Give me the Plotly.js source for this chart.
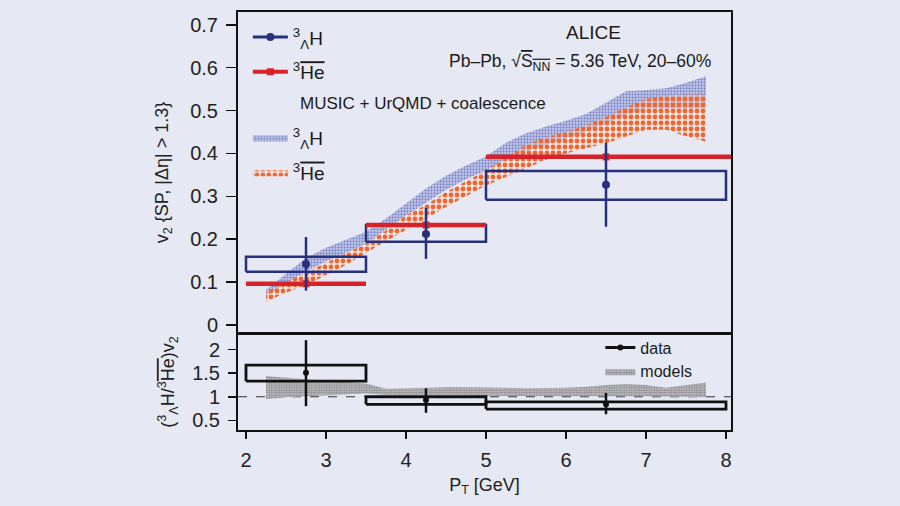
<!DOCTYPE html>
<html>
<head>
<meta charset="utf-8">
<script src="https://cdn.plot.ly/plotly-3.0.1.min.js"></script>
<style>html,body{margin:0;padding:0;background:#e6e9f4;}</style>
</head>
<body>
<div id="chart" style="width:900px;height:506px;"></div>
<script>
// ---------- data ----------
const xTicks = [2, 3, 4, 5, 6, 7, 8];
const yTicksTop = [0, 0.1, 0.2, 0.3, 0.4, 0.5, 0.6, 0.7];
const yTicksBottom = [0.5, 1, 1.5, 2];

const binLo = [2, 3.5, 5];
const binHi = [3.5, 5, 8];
const ptCenter = [2.75, 4.25, 6.5];

// hypertriton (3ΛH) v2
const hV2 = [0.142, 0.212, 0.327];
const hStatUp = [0.063, 0.061, 0.098];
const hStatDn = [0.062, 0.058, 0.098];
const hSysLo = [0.124, 0.194, 0.292];
const hSysHi = [0.159, 0.233, 0.359];

// anti-3He v2
const heV2 = [0.096, 0.233, 0.392];
const heStat = [0.006, 0.006, 0.006];
const heBinHi = [3.5, 5, 8.1];

// models: MUSIC + UrQMD + coalescence
const modelPt = [2.25, 2.5, 2.75, 3.0, 3.25, 3.5, 3.75, 4.0, 4.25, 4.5, 4.75, 5.0, 5.25, 5.5, 5.75, 6.0, 6.25, 6.5, 6.75, 7.0, 7.25, 7.5, 7.75];
const hModelHi = [0.082, 0.118, 0.156, 0.180, 0.198, 0.217, 0.248, 0.283, 0.318, 0.348, 0.372, 0.393, 0.425, 0.447, 0.463, 0.476, 0.492, 0.518, 0.545, 0.548, 0.552, 0.565, 0.580];
const hModelLo = [0.066, 0.095, 0.125, 0.148, 0.168, 0.190, 0.222, 0.255, 0.285, 0.315, 0.340, 0.360, 0.385, 0.405, 0.420, 0.435, 0.450, 0.470, 0.490, 0.505, 0.505, 0.505, 0.505];
const heModelHi = [0.077, 0.100, 0.122, 0.145, 0.167, 0.190, 0.220, 0.255, 0.280, 0.310, 0.335, 0.360, 0.390, 0.420, 0.438, 0.450, 0.465, 0.485, 0.508, 0.527, 0.535, 0.537, 0.537];
const heModelLo = [0.054, 0.075, 0.093, 0.115, 0.140, 0.168, 0.195, 0.222, 0.248, 0.275, 0.300, 0.325, 0.345, 0.365, 0.385, 0.400, 0.412, 0.424, 0.440, 0.455, 0.455, 0.440, 0.427];

// ratio 3ΛH / anti-3He
const ratio = [1.51, 0.93, 0.84];
const ratioStatUp = [0.69, 0.25, 0.24];
const ratioStatDn = [0.71, 0.27, 0.21];
const ratioSysLo = [1.33, 0.84, 0.74];
const ratioSysHi = [1.67, 1.00, 0.89];
const ratioModelHi = [1.44, 1.40, 1.37, 1.35, 1.32, 1.28, 1.17, 1.18, 1.20, 1.20, 1.20, 1.20, 1.19, 1.18, 1.18, 1.19, 1.21, 1.25, 1.27, 1.25, 1.19, 1.24, 1.30];
const ratioModelLo = [0.95, 0.99, 1.01, 1.03, 1.05, 1.07, 1.04, 1.04, 1.04, 1.04, 1.03, 1.02, 1.02, 1.02, 1.01, 1.01, 1.01, 1.01, 1.01, 1.01, 1.00, 1.00, 0.99];
const unityLine = 1;

// ---------- styles ----------
const BG = '#e6e9f4';
const NAVY = '#27307d';
const RED = '#d6232a';
const FONT = 'Liberation Sans, Arial, sans-serif';
const HL = '<sup>3</sup><sub>Λ</sub>H';
const HEBAR = '<sup>3</sup><span style="text-decoration:overline">He</span>';

// ---------- helpers ----------
function gapped(a) { const o = []; a.forEach((v, i) => { if (i) o.push(null); o.push(v); }); return o; }
function boxes(lo, hi, ylo, yhi) {
  const x = [], y = [];
  lo.forEach((l, i) => {
    x.push(l, hi[i], hi[i], l, l, null);
    y.push(ylo[i], ylo[i], yhi[i], yhi[i], ylo[i], null);
  });
  return {x, y};
}
function segments(lo, hi, v) {
  const x = [], y = [];
  lo.forEach((l, i) => { x.push(l, hi[i], null); y.push(v[i], v[i], null); });
  return {x, y};
}
function band(xs, hi, lo) {
  return {x: xs.concat(xs.slice().reverse()), y: hi.concat(lo.slice().reverse())};
}

const hBox = boxes(binLo, binHi, hSysLo, hSysHi);
const heSeg = segments(binLo, heBinHi, heV2);
const hBand = band(modelPt, hModelHi, hModelLo);
const heBand = band(modelPt, heModelHi, heModelLo);
const rBand = band(modelPt, ratioModelHi, ratioModelLo);
const rBox = boxes(binLo, binHi, ratioSysLo, ratioSysHi);

const traces = [
  // model bands (top)
  {x: hBand.x, y: hBand.y, xaxis: 'x2', yaxis: 'y', type: 'scatter', mode: 'lines', fill: 'toself',
   line: {width: 0, color: 'rgba(0,0,0,0)'}, fillcolor: '#c3c8ea',
   fillpattern: {shape: '.', fgcolor: '#7b85c8', bgcolor: '#c9cdeb', size: 3, solidity: 0.45},
   name: HL, legend: 'legend2', legendgroup: 'm1', legendrank: 1, hoverinfo: 'skip'},
  {x: heBand.x, y: heBand.y, xaxis: 'x2', yaxis: 'y', type: 'scatter', mode: 'lines', fill: 'toself',
   line: {width: 0, color: 'rgba(0,0,0,0)'}, fillcolor: 'rgba(250,210,190,0.4)',
   fillpattern: {shape: '.', fgcolor: '#ee6630', bgcolor: 'rgba(250,215,195,0.4)', size: 6, solidity: 0.5},
   name: HEBAR, legend: 'legend2', legendgroup: 'm2', legendrank: 2, hoverinfo: 'skip'},
  // hypertriton systematic boxes
  {x: hBox.x, y: hBox.y, xaxis: 'x2', yaxis: 'y', type: 'scatter', mode: 'lines',
   line: {color: NAVY, width: 2.5}, showlegend: false, hoverinfo: 'skip'},
  // anti-3He systematic (thin boxes)
  {x: heSeg.x, y: heSeg.y, xaxis: 'x2', yaxis: 'y', type: 'scatter', mode: 'lines',
   line: {color: RED, width: 4.5}, showlegend: false, hoverinfo: 'skip'},
  // anti-3He points
  {x: gapped(ptCenter), y: gapped(heV2), xaxis: 'x2', yaxis: 'y', type: 'scatter', mode: 'lines+markers',
   connectgaps: false, line: {color: RED, width: 4}, marker: {color: RED, size: 7, symbol: 'square'},
   error_y: {type: 'data', array: gapped(heStat), color: RED, thickness: 2, width: 0},
   name: HEBAR, legend: 'legend', legendgroup: 'd2', legendrank: 2},
  // hypertriton points
  {x: gapped(ptCenter), y: gapped(hV2), xaxis: 'x2', yaxis: 'y', type: 'scatter', mode: 'lines+markers',
   connectgaps: false, line: {color: NAVY, width: 3}, marker: {color: NAVY, size: 8, symbol: 'circle'},
   error_y: {type: 'data', symmetric: false, array: gapped(hStatUp), arrayminus: gapped(hStatDn), color: NAVY, thickness: 2.5, width: 0},
   name: HL, legend: 'legend', legendgroup: 'd1', legendrank: 1},
  // ratio panel
  {x: rBand.x, y: rBand.y, xaxis: 'x', yaxis: 'y2', type: 'scatter', mode: 'lines', fill: 'toself',
   line: {width: 0, color: 'rgba(0,0,0,0)'}, fillcolor: '#c4c4c8',
   fillpattern: {shape: '.', fgcolor: '#8a8a8e', bgcolor: '#cdcdd1', size: 2.5, solidity: 0.55},
   name: 'models', legend: 'legend3', legendrank: 2, hoverinfo: 'skip'},
  {x: rBox.x, y: rBox.y, xaxis: 'x', yaxis: 'y2', type: 'scatter', mode: 'lines',
   line: {color: '#111', width: 2.8}, showlegend: false, hoverinfo: 'skip'},
  {x: gapped(ptCenter), y: gapped(ratio), xaxis: 'x', yaxis: 'y2', type: 'scatter', mode: 'lines+markers',
   connectgaps: false, line: {color: '#111', width: 3}, marker: {color: '#111', size: 6},
   error_y: {type: 'data', symmetric: false, array: gapped(ratioStatUp), arrayminus: gapped(ratioStatDn), color: '#111', thickness: 2.5, width: 0},
   name: 'data', legend: 'legend3', legendrank: 1}
];

const axisCommon = {showline: true, mirror: true, linewidth: 2, linecolor: '#111', showgrid: false, zeroline: false,
  ticks: 'outside', tickcolor: '#111', tickwidth: 1.5, ticklabelstandoff: 4, tickfont: {size: 20, family: FONT, color: '#222'}};

const layout = {
  width: 900, height: 506,
  paper_bgcolor: BG, plot_bgcolor: BG,
  margin: {l: 238, r: 169, t: 12, b: 76},
  font: {family: FONT, color: '#1a1a1a', size: 18},
  showlegend: true,
  xaxis: Object.assign({}, axisCommon, {domain: [0, 1], anchor: 'y2', range: [1.9, 8.0625], tickvals: xTicks, ticklen: 7,
    title: {text: 'P<sub>T</sub> [GeV]', font: {size: 18, family: FONT, color: '#222'}, standoff: 8}}),
  xaxis2: Object.assign({}, axisCommon, {domain: [0, 1], anchor: 'y', matches: 'x', range: [1.9, 8.0625], showticklabels: false, ticks: ''}),
  yaxis: Object.assign({}, axisCommon, {domain: [0.232, 1], anchor: 'x2', range: [-0.019, 0.730], tickvals: yTicksTop, ticklen: 10,
    title: {text: 'v<sub>2</sub> {SP, |Δη| > 1.3}', font: {size: 18, family: FONT, color: '#222'}, standoff: 17}}),
  yaxis2: Object.assign({}, axisCommon, {domain: [0, 0.2297], anchor: 'x', range: [0.296, 2.33], tickvals: yTicksBottom, ticklen: 8,
    title: {text: '(' + HL + '/' + HEBAR + ')v<sub>2</sub>', font: {size: 18, family: FONT, color: '#222'}, standoff: 13}}),
  legend: {x: 0.02, y: 0.985, xanchor: 'left', yanchor: 'top', bgcolor: 'rgba(0,0,0,0)', itemwidth: 35,
    font: {size: 19, family: FONT, color: '#1a1a1a'}, tracegroupgap: 7, traceorder: 'grouped', itemclick: false},
  legend2: {x: 0.02, y: 0.745, xanchor: 'left', yanchor: 'top', bgcolor: 'rgba(0,0,0,0)', itemwidth: 35,
    font: {size: 19, family: FONT, color: '#1a1a1a'}, tracegroupgap: 7, traceorder: 'grouped', itemclick: false},
  legend3: {x: 0.735, y: 0.238, xanchor: 'left', yanchor: 'top', bgcolor: 'rgba(0,0,0,0)', itemwidth: 30,
    font: {size: 16, family: FONT, color: '#1a1a1a'}, tracegroupgap: 0, traceorder: 'normal', itemclick: false},
  shapes: [
    {type: 'line', xref: 'x domain', yref: 'y2', x0: 0, x1: 1, y0: unityLine, y1: unityLine,
     line: {color: '#333', width: 1, dash: 'dash'}, layer: 'below'}
  ],
  annotations: [
    {text: 'ALICE', xref: 'paper', yref: 'paper', x: 0.722, y: 0.952, xanchor: 'center', yanchor: 'middle', showarrow: false,
     font: {size: 19, family: FONT, color: '#1a1a1a'}},
    {text: 'Pb–Pb, √<span style="text-decoration:overline">S<sub>NN</sub></span> = 5.36 TeV, 20–60%', xref: 'paper', yref: 'paper',
     x: 0.9635, y: 0.880, xanchor: 'right', yanchor: 'middle', showarrow: false, font: {size: 17.5, family: FONT, color: '#1a1a1a'}},
    {text: 'MUSIC + UrQMD + coalescence', xref: 'paper', yref: 'paper', x: 0.1217, y: 0.782, xanchor: 'left', yanchor: 'middle',
     showarrow: false, font: {size: 17, family: FONT, color: '#1a1a1a'}}
  ]
};

Plotly.newPlot('chart', traces, layout, {displayModeBar: false, staticPlot: true});
</script>
</body>
</html>
